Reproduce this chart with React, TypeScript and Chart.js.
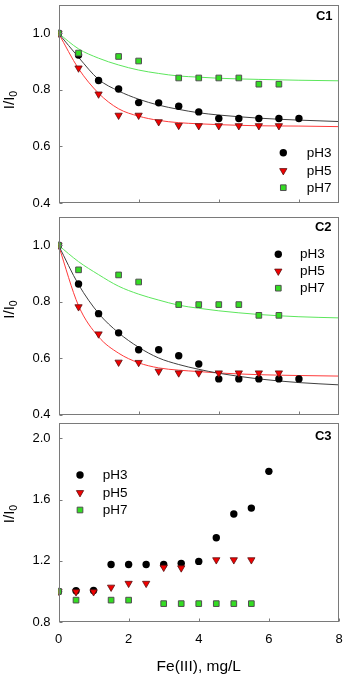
import React, { useEffect, useRef } from 'react';
import { Chart, registerables } from 'chart.js';

Chart.register(...registerables);

const FONT = "'Liberation Sans', Arial, Helvetica, sans-serif";

// ---------- x values ----------
const X_PH3 = [0, 0.5, 1, 1.5, 2, 2.5, 3, 3.5, 4, 4.5, 5, 5.5, 6];
const X_PH5 = [0, 0.5, 1, 1.5, 2, 2.5, 3, 3.5, 4, 4.5, 5, 5.5];
const X_PH7 = [0, 0.5, 1.5, 2, 3, 3.5, 4, 4.5, 5, 5.5];
const X_PH5_C3 = [0, 0.5, 1, 1.5, 2, 2.5, 3, 3.5, 4.5, 5, 5.5];
const X_FIT = [0, 0.5, 1, 1.5, 2, 2.5, 3, 3.5, 4, 5, 6, 7];

// ---------- C1 ----------
const C1_PH3 = [1.0, 0.923, 0.833, 0.803, 0.755, 0.754, 0.742, 0.722, 0.699, 0.699, 0.699, 0.699, 0.699];
const C1_PH5 = [1.0, 0.877, 0.785, 0.710, 0.710, 0.687, 0.674, 0.673, 0.673, 0.673, 0.673, 0.673];
const C1_PH7 = [1.0, 0.930, 0.918, 0.902, 0.842, 0.842, 0.842, 0.842, 0.820, 0.820];
const C1_FIT3 = [1.0, 0.915, 0.837, 0.796, 0.767, 0.746, 0.731, 0.719, 0.711, 0.700, 0.693, 0.688];
const C1_FIT5 = [1.0, 0.875, 0.788, 0.733, 0.707, 0.692, 0.684, 0.680, 0.677, 0.673, 0.672, 0.670];
const C1_FIT7 = [1.0, 0.945, 0.912, 0.888, 0.870, 0.858, 0.849, 0.845, 0.841, 0.837, 0.834, 0.832];

// ---------- C2 ----------
const C2_PH3 = [1.0, 0.863, 0.758, 0.690, 0.630, 0.630, 0.609, 0.580, 0.527, 0.527, 0.527, 0.527, 0.527];
const C2_PH5 = [1.0, 0.782, 0.686, 0.586, 0.585, 0.554, 0.548, 0.548, 0.548, 0.548, 0.548, 0.548];
const C2_PH7 = [1.0, 0.913, 0.895, 0.870, 0.790, 0.790, 0.790, 0.790, 0.752, 0.752];
const C2_FIT3 = [1.0, 0.861, 0.759, 0.690, 0.639, 0.601, 0.578, 0.561, 0.547, 0.527, 0.514, 0.506];
const C2_FIT5 = [1.0, 0.786, 0.676, 0.618, 0.584, 0.566, 0.558, 0.553, 0.548, 0.542, 0.539, 0.537];
const C2_FIT7 = [1.0, 0.942, 0.896, 0.855, 0.827, 0.806, 0.788, 0.777, 0.768, 0.755, 0.747, 0.743];

// ---------- C3 ----------
const C3_PH3 = [1.0, 1.004, 1.006, 1.176, 1.176, 1.176, 1.176, 1.183, 1.196, 1.350, 1.506, 1.544, 1.784];
const C3_PH5 = [1.0, 0.997, 0.997, 1.027, 1.052, 1.052, 1.157, 1.153, 1.206, 1.206, 1.206];
const C3_PH7 = [1.0, 0.943, 0.943, 0.943, 0.920, 0.920, 0.920, 0.920, 0.920, 0.920];

// ---------- ticks / labels ----------
const SERIES_LABELS = ['pH3', 'pH5', 'pH7'];
const Y_TICKS_C12 = [0.4, 0.6, 0.8, 1.0];
const Y_TICKS_C3 = [0.8, 1.2, 1.6, 2.0];
const X_TICKS_C12 = [0, 2, 4, 6];
const X_TICKS_C3 = [0, 2, 4, 6, 8];
const X_TITLE = 'Fe(III), mg/L';

const zip = (xs: number[], ys: number[]) => xs.map((x, i) => ({ x, y: ys[i] }));

const decorPlugin = {
  id: 'decor',
  afterDraw(chart: any, _args: any, opts: any) {
    const { ctx, chartArea: a, scales } = chart;
    const xs = scales.x;
    const ys = scales.y;
    ctx.save();
    const L = Math.round(a.left) + 0.5;
    const R = Math.round(a.right) - 0.5;
    const T = Math.round(a.top) + 0.5;
    const B = Math.round(a.bottom) - 0.5;
    ctx.strokeStyle = '#7a7a7a';
    ctx.lineWidth = 1;
    ctx.strokeRect(L, T, R - L, B - T);
    ctx.beginPath();
    xs.ticks.forEach((t: any) => {
      const px = Math.round(xs.getPixelForValue(t.value)) + 0.5;
      ctx.moveTo(px, B);
      ctx.lineTo(px, B - 3);
    });
    ys.ticks.forEach((t: any) => {
      const py = Math.round(ys.getPixelForValue(t.value)) + 0.5;
      ctx.moveTo(L, py);
      ctx.lineTo(L + 3, py);
    });
    ctx.stroke();

    // panel label
    ctx.fillStyle = '#000';
    ctx.font = `bold 13px ${FONT}`;
    ctx.textAlign = 'right';
    ctx.textBaseline = 'middle';
    ctx.fillText(opts.label, opts.labelX, opts.labelY);

    // legend
    const pts = chart.data.datasets.filter((d: any) => d.isPoints);
    pts.forEach((d: any, i: number) => {
      const y = opts.legendRows[i];
      const x = opts.legendX;
      const r = d.pointRadius;
      ctx.beginPath();
      if (d.pointStyle === 'circle') {
        ctx.arc(x, y, r, 0, Math.PI * 2);
      } else if (d.pointStyle === 'triangle') {
        ctx.moveTo(x, y + r);
        ctx.lineTo(x - 0.866 * r, y - 0.5 * r);
        ctx.lineTo(x + 0.866 * r, y - 0.5 * r);
        ctx.closePath();
      } else {
        const s = Math.SQRT1_2 * r;
        ctx.rect(x - s, y - s, 2 * s, 2 * s);
      }
      ctx.fillStyle = d.backgroundColor;
      ctx.fill();
      if (d.borderWidth > 0) {
        ctx.strokeStyle = d.borderColor;
        ctx.lineWidth = d.borderWidth;
        ctx.stroke();
      }
      ctx.fillStyle = '#000';
      ctx.font = `13.5px ${FONT}`;
      ctx.textAlign = 'left';
      ctx.textBaseline = 'middle';
      ctx.fillText(d.label, opts.legendTextX, y + 0.5);
    });

    // y title I/I0
    ctx.translate(opts.titleX, opts.titleY);
    ctx.rotate(-Math.PI / 2);
    ctx.fillStyle = '#000';
    ctx.textAlign = 'left';
    ctx.textBaseline = 'middle';
    ctx.font = `15px ${FONT}`;
    const w1 = ctx.measureText('I/I').width;
    ctx.font = `10.5px ${FONT}`;
    const w2 = ctx.measureText('0').width;
    const sx = -(w1 + w2) / 2;
    ctx.font = `15px ${FONT}`;
    ctx.fillText('I/I', sx, 0);
    ctx.font = `10.5px ${FONT}`;
    ctx.fillText('0', sx + w1, 4.5);
    ctx.restore();
  },
};

function pointSets(p3: any[], p5: any[], p7: any[]) {
  return [
    {
      label: SERIES_LABELS[0], data: p3, isPoints: true, showLine: false,
      pointStyle: 'circle', pointRadius: 3.7, backgroundColor: '#000000', borderColor: '#000000', borderWidth: 0, order: 3,
    },
    {
      label: SERIES_LABELS[1], data: p5, isPoints: true, showLine: false,
      pointStyle: 'triangle', rotation: 180, pointRadius: 4.2, backgroundColor: '#f20000', borderColor: '#5a1010', borderWidth: 0.8, order: 2,
    },
    {
      label: SERIES_LABELS[2], data: p7, isPoints: true, showLine: false,
      pointStyle: 'rect', pointRadius: 4, backgroundColor: '#33dd22', borderColor: '#505050', borderWidth: 1, order: 1,
    },
  ];
}

function fitSets(f3: any[], f5: any[], f7: any[]) {
  const base = { showLine: true, pointRadius: 0, borderWidth: 1, fill: false, cubicInterpolationMode: 'monotone', order: 10 };
  return [
    { ...base, label: 'fit3', data: f3, borderColor: '#404040' },
    { ...base, label: 'fit5', data: f5, borderColor: '#ff3a3a' },
    { ...base, label: 'fit7', data: f7, borderColor: '#5ce65c' },
  ];
}

function makeConfig(p: any) {
  return {
    type: 'scatter',
    data: { datasets: p.datasets },
    plugins: [decorPlugin],
    options: {
      responsive: false,
      animation: false,
      devicePixelRatio: 1,
      events: [],
      layout: { padding: { top: p.padTop, right: 4, left: 0, bottom: 0 } },
      plugins: {
        legend: { display: false },
        tooltip: { enabled: false },
        decor: p.decor,
      },
      scales: {
        x: {
          type: 'linear',
          min: p.xMin,
          max: p.xMax,
          afterBuildTicks: (s: any) => { s.ticks = p.xTicks.map((v: number) => ({ value: v })); },
          afterFit: (s: any) => {
            s.height = p.xHeight;
            s.paddingLeft = 0; s.paddingRight = 0; s.paddingTop = 0; s.paddingBottom = 0;
          },
          grid: { display: false, drawTicks: false },
          border: { display: false },
          ticks: {
            display: p.xLabels,
            padding: 9.5,
            maxRotation: 0,
            autoSkip: false,
            color: '#000',
            font: { family: FONT, size: 13 },
            callback: (v: any) => String(v),
          },
          title: {
            display: p.xLabels,
            text: X_TITLE,
            color: '#000',
            font: { family: FONT, size: 15.5, lineHeight: 1 },
            padding: { top: 0, bottom: 0.3 },
          },
        },
        y: {
          type: 'linear',
          min: p.yMin,
          max: p.yMax,
          afterBuildTicks: (s: any) => { s.ticks = p.yTicks.map((v: number) => ({ value: v })); },
          afterFit: (s: any) => {
            s.width = 58.5;
            s.paddingLeft = 0; s.paddingRight = 0; s.paddingTop = 0; s.paddingBottom = 0;
          },
          grid: { display: false, drawTicks: false },
          border: { display: false },
          ticks: {
            padding: 8,
            color: '#000',
            font: { family: FONT, size: 13 },
            callback: (v: any) => Number(v).toFixed(1),
          },
        },
      },
    },
  };
}

const PANELS = [
  {
    top: 0, height: 208, padTop: 1.5, xHeight: 4, xMin: 0, xMax: 7, xTicks: X_TICKS_C12, xLabels: false,
    yMin: 0.4, yMax: 1.1, yTicks: Y_TICKS_C12,
    datasets: [
      ...pointSets(zip(X_PH3, C1_PH3), zip(X_PH5, C1_PH5), zip(X_PH7, C1_PH7)),
      ...fitSets(zip(X_FIT, C1_FIT3), zip(X_FIT, C1_FIT5), zip(X_FIT, C1_FIT7)),
    ],
    decor: { label: 'C1', labelX: 332.5, labelY: 16, legendX: 283.3, legendTextX: 306.7, legendRows: [152.7, 170.7, 187.7], titleX: 10, titleY: 100 },
  },
  {
    top: 211.5, height: 208, padTop: 1.5, xHeight: 5.2, xMin: 0, xMax: 7, xTicks: X_TICKS_C12, xLabels: false,
    yMin: 0.4, yMax: 1.1, yTicks: Y_TICKS_C12,
    datasets: [
      ...pointSets(zip(X_PH3, C2_PH3), zip(X_PH5, C2_PH5), zip(X_PH7, C2_PH7)),
      ...fitSets(zip(X_FIT, C2_FIT3), zip(X_FIT, C2_FIT5), zip(X_FIT, C2_FIT7)),
    ],
    decor: { label: 'C2', labelX: 331.5, labelY: 15.7, legendX: 278.3, legendTextX: 300, legendRows: [42.2, 59.2, 76.2], titleX: 10, titleY: 97.5 },
  },
  {
    top: 418, height: 257, padTop: 1.3, xHeight: 53, xMin: 0, xMax: 8, xTicks: X_TICKS_C3, xLabels: true,
    yMin: 0.8, yMax: 2.1, yTicks: Y_TICKS_C3,
    datasets: [
      ...pointSets(zip(X_PH3, C3_PH3), zip(X_PH5_C3, C3_PH5), zip(X_PH7, C3_PH7)),
    ],
    decor: { label: 'C3', labelX: 331.5, labelY: 18, legendX: 80, legendTextX: 102.7, legendRows: [57, 74.7, 92], titleX: 10, titleY: 96 },
  },
];

function Panel({ p }: { p: any }) {
  const ref = useRef<HTMLCanvasElement | null>(null);
  useEffect(() => {
    if (!ref.current) return;
    const chart = new Chart(ref.current, makeConfig(p) as any);
    return () => chart.destroy();
  }, [p]);
  return (
    <canvas
      ref={ref}
      width={344}
      height={p.height}
      style={{ position: 'absolute', left: 0, top: p.top, width: 344, height: p.height, display: 'block' }}
    />
  );
}

export default function App() {
  return (
    <div style={{ position: 'absolute', left: 0, top: 0, width: 344, height: 675, background: '#fff' }}>
      {PANELS.map((p, i) => (
        <Panel key={i} p={p} />
      ))}
    </div>
  );
}
